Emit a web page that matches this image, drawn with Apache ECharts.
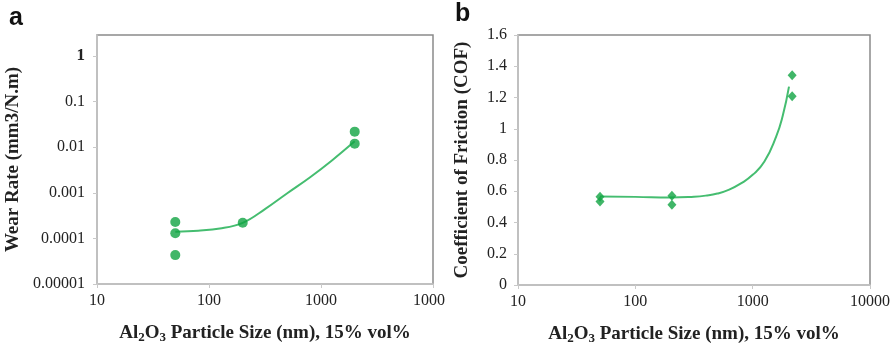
<!DOCTYPE html>
<html><head><meta charset="utf-8">
<script src="https://cdn.jsdelivr.net/npm/echarts@6/dist/echarts.min.js"></script>
<style>
html,body{margin:0;padding:0;background:#fff;}
#wrap{position:relative;width:894px;height:345px;overflow:hidden;background:#fff;}
#ca{position:absolute;left:0;top:0;width:445px;height:345px;}
#cb{position:absolute;left:445px;top:0;width:449px;height:345px;}
</style></head>
<body><div id="wrap"><div id="ca"></div><div id="cb"></div></div>
<script>
// ---- data ----
const xTickLabels = ['10', '100', '1000', '10000'];
const wearTickLabels = ['0.00001', '0.0001', '0.001', '0.01', '0.1', '1'];
const cofTickLabels = ['0', '0.2', '0.4', '0.6', '0.8', '1', '1.2', '1.4', '1.6'];

const wearPoints = [[50, 2.3e-4], [50, 1.3e-4], [50, 4.3e-5], [200, 2.2e-4], [2000, 0.022], [2000, 0.012]];
const wearTrend = [[50, 1.4e-4], [80, 1.48e-4], [125, 1.65e-4], [200, 2.2e-4], [316, 4.4e-4], [500, 9.8e-4], [800, 2.2e-3], [1260, 5.2e-3], [2000, 1.35e-2]];

const cofPoints = [[50, 0.565], [50, 0.535], [205, 0.572], [205, 0.514], [2170, 1.343], [2170, 1.208]];
const cofTrend = [[50, 0.566], [100, 0.564], [200, 0.56], [316, 0.565], [398, 0.572], [500, 0.585], [631, 0.61], [794, 0.65], [1000, 0.705], [1259, 0.79], [1585, 0.95], [1800, 1.08], [2040, 1.27]];

// ---- styles ----
const SERIF = '"Liberation Serif","Times New Roman",serif';
const MARK = '#10a442';
const LINE = '#45bd70';
const AXIS = '#c9c9c9';
const BORDER = '#8a8a8a';
const TXT = '#222';

function xLabel(v) {
  const i = Math.round(Math.log10(v)) - 1;
  return xTickLabels[i] !== undefined ? xTickLabels[i] : '';
}
const xTitle = '{b|Al}{s|2}{b|O}{s|3}{b| Particle Size (nm), 15% vol%}';
const xTitleStyle = {
  fontFamily: SERIF, fontWeight: 'bold', fontSize: 19, color: TXT,
  rich: {
    b: {fontFamily: SERIF, fontWeight: 'bold', fontSize: 19, color: TXT},
    s: {fontFamily: SERIF, fontWeight: 'bold', fontSize: 13, color: TXT, padding: [8, 0, 0, 0]}
  }
};

function baseX() {
  return {
    type: 'log', logBase: 10, min: 10, max: 10000,
    name: xTitle, nameLocation: 'middle', nameGap: 39, nameTextStyle: xTitleStyle,
    axisLine: {show: true, lineStyle: {color: AXIS, width: 1.5}},
    axisTick: {show: true, length: 4, lineStyle: {color: AXIS}},
    splitLine: {show: false}, minorTick: {show: false},
    axisLabel: {fontFamily: SERIF, fontSize: 16, color: TXT, margin: 9, formatter: xLabel}
  };
}

// ---- chart a ----
const ca = echarts.init(document.getElementById('ca'), null, {renderer: 'canvas'});
ca.setOption({
  animation: false,
  grid: {left: 97, right: 12, top: 35, bottom: 61, show: true, borderColor: BORDER, borderWidth: 1.5, backgroundColor: '#fff', outerBoundsMode: 'none', containLabel: false},
  graphic: [{type: 'text', left: 9, top: 6, style: {text: 'a', font: 'bold 25px "Liberation Sans", Arial, sans-serif', fill: '#111'}}],
  xAxis: baseX(),
  yAxis: {
    type: 'log', logBase: 10, min: 0.00001, max: 2.9,
    name: 'Wear Rate (mm3/N.m)', nameLocation: 'middle', nameGap: 67,
    nameTextStyle: {fontFamily: SERIF, fontWeight: 'bold', fontSize: 19, color: TXT},
    axisLine: {show: true, lineStyle: {color: AXIS, width: 1.5}},
    axisTick: {show: true, length: 4, lineStyle: {color: AXIS}},
    splitLine: {show: false}, minorTick: {show: false},
    axisLabel: {
      fontFamily: SERIF, fontSize: 16, color: TXT, margin: 12, showMaxLabel: false,
      formatter: function (v) {
        const i = Math.round(Math.log10(v)) + 5;
        if (Math.abs(Math.log10(v) - Math.round(Math.log10(v))) > 0.01) return '';
        const t = wearTickLabels[i];
        if (t === undefined) return '';
        return t === '1' ? '{bd|1}' : t;
      },
      rich: {bd: {fontFamily: SERIF, fontSize: 17, fontWeight: 'bold', color: TXT}}
    }
  },
  series: [
    {type: 'line', data: wearTrend, smooth: 0.4, symbol: 'none', lineStyle: {color: LINE, width: 2}, z: 2},
    {type: 'scatter', data: wearPoints, symbol: 'circle', symbolSize: 10, itemStyle: {color: MARK}, z: 3}
  ]
});

// ---- chart b ----
const cb = echarts.init(document.getElementById('cb'), null, {renderer: 'canvas'});
cb.setOption({
  animation: false,
  grid: {left: 73, right: 24, top: 35, bottom: 60, show: true, borderColor: BORDER, borderWidth: 1.5, backgroundColor: '#fff', outerBoundsMode: 'none', containLabel: false},
  graphic: [{type: 'text', left: 10, top: 2, style: {text: 'b', font: 'bold 25px "Liberation Sans", Arial, sans-serif', fill: '#111'}}],
  xAxis: baseX(),
  yAxis: {
    type: 'value', min: 0, max: 1.6, interval: 0.2,
    name: 'Coefficient of Friction (COF)', nameLocation: 'middle', nameGap: 46,
    nameTextStyle: {fontFamily: SERIF, fontWeight: 'bold', fontSize: 19, color: TXT},
    axisLine: {show: true, lineStyle: {color: AXIS, width: 1.5}},
    axisTick: {show: true, length: 4, lineStyle: {color: AXIS}},
    splitLine: {show: false},
    axisLabel: {
      fontFamily: SERIF, fontSize: 16, color: TXT, margin: 11,
      formatter: function (v) { const i = Math.round(v / 0.2); return cofTickLabels[i] || ''; }
    }
  },
  series: [
    {type: 'line', data: cofTrend, smooth: 0.5, symbol: 'none', lineStyle: {color: LINE, width: 2}, z: 2},
    {type: 'scatter', data: cofPoints, symbol: 'diamond', symbolSize: [9, 10], itemStyle: {color: MARK}, z: 3}
  ]
});
</script></body></html>
